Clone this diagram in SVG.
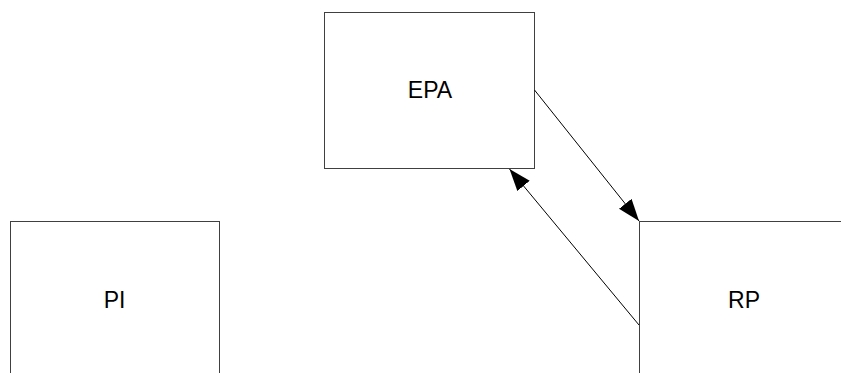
<svg xmlns="http://www.w3.org/2000/svg" width="841" height="373" viewBox="0 0 841 373">
<style>
.box{fill:#fff;stroke:#404040;stroke-width:1}
.lbl{font-family:"Liberation Sans",Arial,sans-serif;font-size:23px;fill:#000;text-anchor:middle}
.conn{stroke:#000;stroke-width:1;fill:none;marker-end:url(#ah)}
</style>
<defs>
<marker id="ah" markerUnits="userSpaceOnUse" markerWidth="24" markerHeight="18" refX="22" refY="8" orient="auto">
<path d="M0,0 L22,8 L0,16 Z" fill="#000"/>
</marker>
</defs>
<rect width="841" height="373" fill="#fff"/>
<g id="node-EPA"><rect class="box" x="324.5" y="12.5" width="210" height="156"/><text class="lbl" x="430" y="98">EPA</text></g>
<g id="node-PI"><rect class="box" x="10.5" y="221.5" width="209" height="160"/><text class="lbl" x="114.5" y="308">PI</text></g>
<g id="node-RP"><rect class="box" x="639.5" y="221.5" width="210" height="160"/><text class="lbl" x="744" y="308">RP</text></g>
<g id="connectors">
<line class="conn" x1="534.5" y1="90" x2="639" y2="221"/>
<line class="conn" x1="639" y1="325" x2="509.5" y2="169"/>
</g>
</svg>
